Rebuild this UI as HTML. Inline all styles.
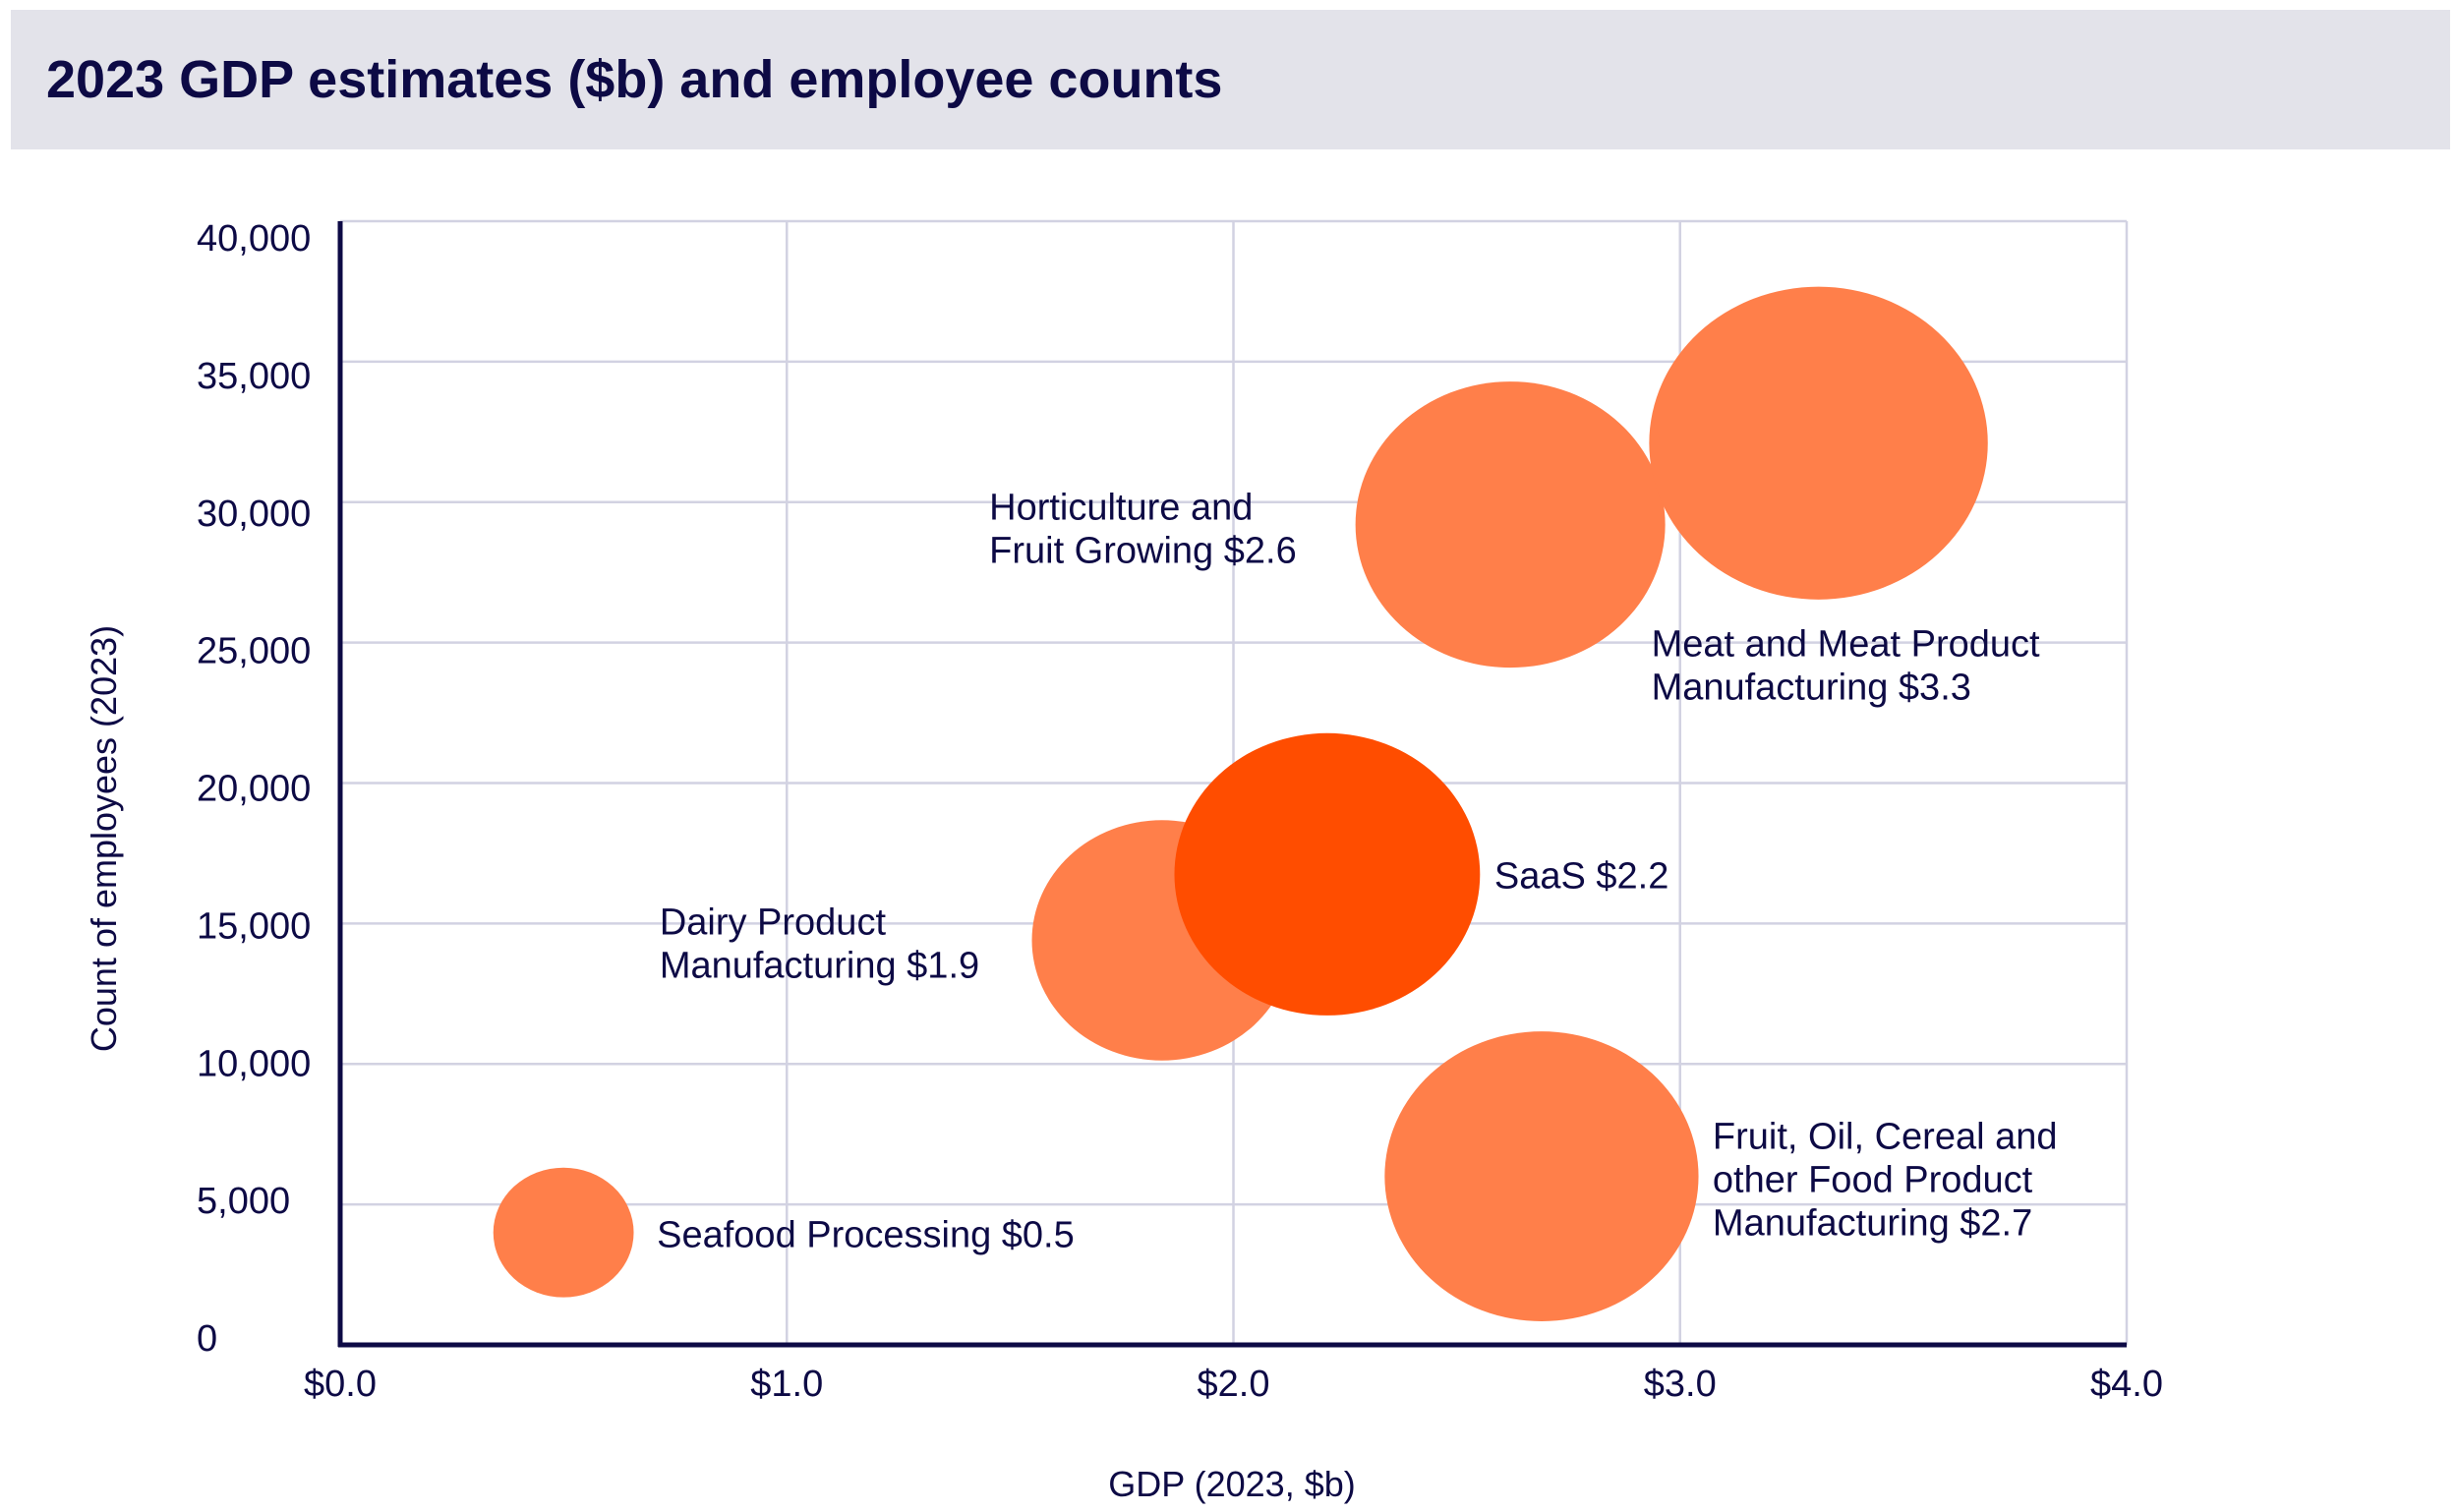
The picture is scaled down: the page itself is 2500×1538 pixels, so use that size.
<!DOCTYPE html>
<html><head><meta charset="utf-8"><style>
html,body{margin:0;padding:0;background:#fff;width:2500px;height:1538px;overflow:hidden}
svg text{font-family:"Liberation Sans",sans-serif;fill:#0d0a45}
</style></head><body>
<svg id="chart" width="2500" height="1538" viewBox="0 0 2500 1538">
<rect x="11" y="10" width="2481" height="142" fill="#e3e3ea"/>
<text x="47" y="99" font-size="54" font-weight="bold">2023 GDP estimates ($b) and employee counts</text>
<g id="grid"></g><g id="bubbles"></g><g id="labels"></g><g id="axes"></g>
<text x="1253" y="1522" font-size="36" text-anchor="middle">GDP (2023, $b)</text>
<text transform="translate(118,853) rotate(-90)" font-size="36" text-anchor="middle">Count of employees (2023)</text>
</svg>
<script>
const categories = ["Seafood Processing","Dairy Product Manufacturing","SaaS","Horticulture and Fruit Growing","Fruit, Oil, Cereal and other Food Product Manufacturing","Meat and Meat Product Manufacturing"];
const gdpValues = [0.5, 1.84, 2.21, 2.62, 2.69, 3.31];
const employeeValues = [4000, 14400, 16750, 29200, 6000, 32100];
const bubbleSizes = [68, 126, 148, 150, 152, 164];
const labelLines = [["Seafood Processing $0.5"],["Dairy Product","Manufacturing $1.9"],["SaaS $2.2"],["Horticulture and","Fruit Growing $2.6"],["Fruit, Oil, Cereal and","other Food Product","Manufacturing $2.7"],["Meat and Meat Product","Manufacturing $3.3"]];
const xTicks = [0,1,2,3,4];
const xTickLabels = ["$0.0","$1.0","$2.0","$3.0","$4.0"];
const yTicks = [0,5000,10000,15000,20000,25000,30000,35000,40000];
const yTickLabels = ["0","5,000","10,000","15,000","20,000","25,000","30,000","35,000","40,000"];

const NS="http://www.w3.org/2000/svg";
const X0=346,X1=2163,Y0=1368,Y1=225;
const xs=v=>X0+(v-0)/(4-0)*(X1-X0);
const ys=v=>Y0-(v/40000)*(Y0-Y1);
function mk(tag,attrs,parent){const e=document.createElementNS(NS,tag);for(const k in attrs)e.setAttribute(k,attrs[k]);parent.appendChild(e);return e;}
const grid=document.getElementById('grid'),axes=document.getElementById('axes'),bub=document.getElementById('bubbles'),lab=document.getElementById('labels');
xTicks.forEach((t,i)=>{
  if(t>0){const l=mk('line',{x1:xs(t),x2:xs(t),y1:Y1,y2:Y0,stroke:'#d2d2e2','stroke-width':2.5},grid);
  
  }
  const tx=mk('text',{x:xs(t),y:Y0+52,'font-size':38,'text-anchor':'middle'},axes);tx.textContent=xTickLabels[i];
  
  
});
yTicks.forEach((t,i)=>{
  if(t>0){const l=mk('line',{x1:X0,x2:X1,y1:ys(t),y2:ys(t),stroke:'#d2d2e2','stroke-width':2.5},grid);
  
  }
  const ly=ys(t)+30-24*(1-t/40000);
  const tx=mk('text',{x:200,y:ly,'font-size':38},axes);tx.textContent=yTickLabels[i];
  
  
});
const ya=mk('line',{x1:X0,x2:X0,y1:Y1,y2:Y0+2,stroke:'#0d0a45','stroke-width':5},axes);


const xa=mk('line',{x1:X0-2,x2:X1,y1:Y0,y2:Y0,stroke:'#0d0a45','stroke-width':5},axes);


const labelOffsets=[[95,3],[-511,4],[170,2],[-530,5],[174,4],[-170,227]];
categories.forEach((c,i)=>{
  const cx=xs(gdpValues[i]),cy=ys(employeeValues[i]),r=bubbleSizes[i];
  const e=mk('ellipse',{cx:cx,cy:cy,rx:r*1.05,ry:r*0.97,fill:c==='SaaS'?'#ff4d00':'#ff7f4a'},bub);
  
  
  const lines=labelLines[i];
  const bx=cx+labelOffsets[i][0];
  const by=cy+labelOffsets[i][1]-(lines.length-1)*22+12;
  lines.forEach((ln,j)=>{
    const t=mk('text',{x:bx,y:by+j*44,'font-size':38},lab);t.textContent=ln;
    
    
  });
});
</script>
</body></html>
